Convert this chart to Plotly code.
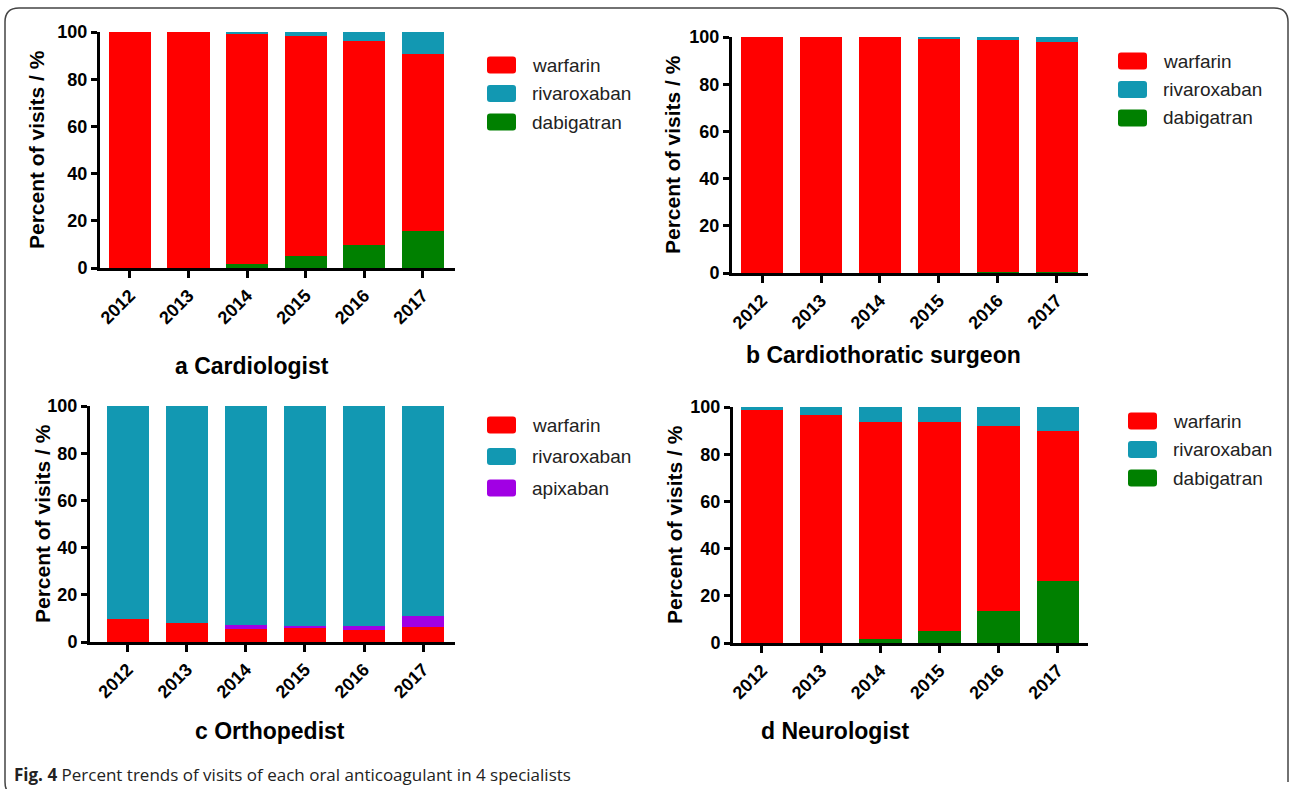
import plotly.graph_objects as go

W, H = 1292, 789

years = ["2012", "2013", "2014", "2015", "2016", "2017"]

# a Cardiologist (stack: dabigatran bottom, warfarin, rivaroxaban top)
a_dabigatran = [0, 0, 1.5, 4.9, 9.6, 15.5]
a_warfarin = [100, 100, 97.8, 93.3, 86.6, 75.3]
a_rivaroxaban = [0, 0, 0.7, 1.8, 3.8, 9.2]

# b Cardiothoratic surgeon
b_dabigatran = [0, 0, 0, 0, 0.5, 0.5]
b_warfarin = [100, 100, 100, 99.3, 98.1, 97.2]
b_rivaroxaban = [0, 0, 0, 0.7, 1.4, 2.3]

# c Orthopedist (stack: warfarin bottom, apixaban, rivaroxaban top)
c_warfarin = [9.9, 8.2, 5.5, 5.8, 5.1, 6.2]
c_apixaban = [0, 0, 1.6, 1.1, 1.5, 4.7]
c_rivaroxaban = [90.1, 91.8, 92.9, 93.1, 93.4, 89.1]

# d Neurologist
d_dabigatran = [0, 0, 1.7, 5.1, 13.6, 26.3]
d_warfarin = [98.9, 96.8, 92.1, 88.7, 78.5, 63.5]
d_rivaroxaban = [1.1, 3.2, 6.2, 6.2, 7.9, 10.2]

panel_titles = ["<b>a Cardiologist</b>", "<b>b Cardiothoratic surgeon</b>",
                "<b>c Orthopedist</b>", "<b>d Neurologist</b>"]
y_title = "Percent of visits / %"
y_ticks = [0, 20, 40, 60, 80, 100]
caption_bold = "Fig. 4"
caption_text = " Percent trends of visits of each oral anticoagulant in 4 specialists"

colors = {
    "warfarin": "#FF0000",
    "rivaroxaban": "#1298B2",
    "dabigatran": "#008000",
    "apixaban": "#A100E4",
}

panels = [
    [("dabigatran", a_dabigatran), ("warfarin", a_warfarin), ("rivaroxaban", a_rivaroxaban)],
    [("dabigatran", b_dabigatran), ("warfarin", b_warfarin), ("rivaroxaban", b_rivaroxaban)],
    [("warfarin", c_warfarin), ("apixaban", c_apixaban), ("rivaroxaban", c_rivaroxaban)],
    [("dabigatran", d_dabigatran), ("warfarin", d_warfarin), ("rivaroxaban", d_rivaroxaban)],
]
legend_names = [
    ["warfarin", "rivaroxaban", "dabigatran"],
    ["warfarin", "rivaroxaban", "dabigatran"],
    ["warfarin", "rivaroxaban", "apixaban"],
    ["warfarin", "rivaroxaban", "dabigatran"],
]

# layout geometry in pixels
# (x_left, x_right, y_bottom(0), y_top(100), xrange)
geom = [
    (100, 455, 268, 32, [-0.51, 5.55]),
    (732, 1088, 273, 37, [-0.51, 5.53]),
    (90, 455, 642, 406, [-0.64, 5.54]),
    (733, 1088, 643, 407, [-0.49, 5.51]),
]
title_pos = [(252, 366), (883, 355), (270, 731), (835, 731)]
ytitle_pos = [(37, 150), (673, 155), (42, 524), (674, 525)]
legend_pos = [(487, 65, 28.5), (1118, 61, 28.5), (487, 425, 31.5), (1128, 421, 28.5)]


def px(x):
    return x / W


def py(y):
    return 1 - y / H


fig = go.Figure()
annotations = []
shapes = []

tick_font = dict(family="Liberation Sans, Arial", size=18, color="black", weight="bold")

for i, traces in enumerate(panels):
    n = "" if i == 0 else str(i + 1)
    xl, xr, yb, yt, xrng = geom[i]
    for name, vals in traces:
        fig.add_trace(go.Bar(
            x=years, y=vals, name=name, width=0.72,
            marker=dict(color=colors[name], line=dict(width=0)),
            xaxis="x" + n, yaxis="y" + n, showlegend=False,
        ))
    fig.layout["xaxis" + n] = dict(
        domain=[px(xl), px(xr)], anchor="y" + n, type="category", range=xrng,
        showline=True, linewidth=3, linecolor="black", ticks="outside",
        ticklen=7, tickwidth=3, tickcolor="black", tickangle=-45,
        tickfont=tick_font, showgrid=False, zeroline=False, fixedrange=True,
        automargin=False,
    )
    fig.layout["yaxis" + n] = dict(
        domain=[py(yb), py(yt)], anchor="x" + n, range=[0, 100],
        tickvals=y_ticks, showline=True, linewidth=3, linecolor="black",
        ticks="outside", ticklen=6, tickwidth=3, tickcolor="black",
        tickfont=tick_font, showgrid=False, zeroline=False, fixedrange=True,
        automargin=False,
    )
    tx, ty = title_pos[i]
    annotations.append(dict(
        text=panel_titles[i], x=px(tx), y=py(ty), xref="paper", yref="paper",
        xanchor="center", yanchor="middle", showarrow=False,
        font=dict(family="Liberation Sans, Arial", size=23, color="black"),
    ))
    yx, yy = ytitle_pos[i]
    annotations.append(dict(
        text="<b>" + y_title + "</b>", x=px(yx), y=py(yy), xref="paper", yref="paper",
        xanchor="center", yanchor="middle", showarrow=False, textangle=-90,
        font=dict(family="Liberation Sans, Arial", size=21, color="black"),
    ))
    lx, ly, step = legend_pos[i]
    for k, name in enumerate(legend_names[i]):
        cy = ly + k * step
        x0, x1, y0, y1, r = lx, lx + 29, cy - 8.5, cy + 8.5, 3
        path = (f"M {px(x0 + r)} {py(y0)} L {px(x1 - r)} {py(y0)} "
                f"Q {px(x1)} {py(y0)} {px(x1)} {py(y0 + r)} "
                f"L {px(x1)} {py(y1 - r)} Q {px(x1)} {py(y1)} {px(x1 - r)} {py(y1)} "
                f"L {px(x0 + r)} {py(y1)} Q {px(x0)} {py(y1)} {px(x0)} {py(y1 - r)} "
                f"L {px(x0)} {py(y0 + r)} Q {px(x0)} {py(y0)} {px(x0 + r)} {py(y0)} Z")
        shapes.append(dict(type="path", path=path, xref="paper", yref="paper",
                           fillcolor=colors[name], line=dict(width=0)))
        annotations.append(dict(
            text=name, x=px(lx + 43), y=py(cy), xref="paper", yref="paper",
            xanchor="left", yanchor="middle", showarrow=False,
            font=dict(family="Liberation Sans, Arial", size=19, color="#222222"),
        ))

# caption
annotations.append(dict(
    text="<b>" + caption_bold + "</b>" + caption_text, x=px(12), y=py(774),
    xref="paper", yref="paper", xanchor="left", yanchor="middle", showarrow=False,
    font=dict(family="Open Sans", size=17, color="#222222"),
))

# rounded outer frame
bx0, by0, bx1, by1, R = 5, 8, 1288, 796, 14
frame = (f"M {px(bx1)} {py(by1 - R)} "
         f"L {px(bx1)} {py(by0 + R)} Q {px(bx1)} {py(by0)} {px(bx1 - R)} {py(by0)} "
         f"L {px(bx0 + R)} {py(by0)} Q {px(bx0)} {py(by0)} {px(bx0)} {py(by0 + R)} "
         f"L {px(bx0)} {py(by1 - R)} Q {px(bx0)} {py(by1)} {px(bx0 + R)} {py(by1)}")
shapes.append(dict(type="path", path=frame, xref="paper", yref="paper",
                   line=dict(color="#444444", width=1.5)))

fig.update_layout(
    width=W, height=H, margin=dict(l=0, r=0, t=0, b=0, pad=0),
    paper_bgcolor="white", plot_bgcolor="white", barmode="stack",
    showlegend=False, annotations=annotations, shapes=shapes,
)

fig.write_html(
    "out.html",
    config={"displayModeBar": False},
    post_script="document.body.style.margin='0';document.body.style.overflow='hidden';",
)
